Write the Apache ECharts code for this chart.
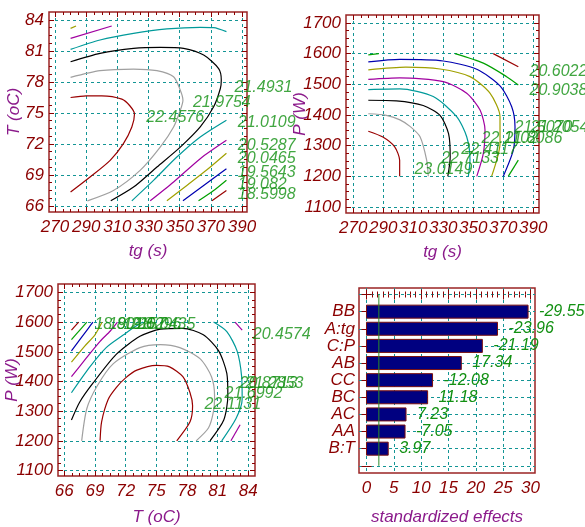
<!DOCTYPE html>
<html><head><meta charset="utf-8">
<script src="https://cdn.jsdelivr.net/npm/echarts@6/dist/echarts.min.js"></script>
<style>html,body{margin:0;padding:0;background:#fff}#c{width:585px;height:527px}</style>
</head><body><div id="c"></div><script>
// ---------- data ----------
const tgTicks = [270,290,310,330,350,370,390];
const tTicks = [66,69,72,75,78,81,84];
const pTicks = [1100,1200,1300,1400,1500,1600,1700];
const effTicks = [0,5,10,15,20,25,30];

// contour lines: [level index 1..9, points]
const tgT_lines = [
 [9,[[280,76.5],[290,76.65],[300,76.66],[312.9,76.34],[318,75.7],[321,74.9],[319.3,73.65],[313.9,72.04],[305.4,70.42],[292.5,68.8],[280,67.35]]],
 [8,[[280,78.44],[298.9,79.09],[320.4,79.25],[335.4,79.09],[346.1,78.5],[350.4,77.2],[352.1,76.24],[350.4,75.27],[346.1,73.65],[337.5,71.7],[324.6,69.45],[307.5,67.5],[290.8,66.5]]],
 [7,[[280,79.96],[298.9,80.77],[320.4,81.25],[337.5,81.35],[352.5,81.25],[365.4,80.6],[375,79.3],[376.7,78.2],[376.1,77.37],[371.8,75.6],[363.2,73.65],[350.4,71.7],[335.4,69.77],[320.4,67.83],[305.8,66.5]]],
 [6,[[280,81.15],[298.9,82.06],[320.4,82.7],[341.8,83.13],[363.2,83.29],[371.8,83.26],[380,82.87]]],
 [6,[[319.3,66.5],[333.2,68.48],[348.2,70.74],[363.2,72.68],[380,74.3]]],
 [5,[[280,82.22],[306.4,83.42]]],
 [5,[[331.1,66.5],[346.1,68.32],[363.2,70.58],[380,72.35]]],
 [4,[[280,83.19],[283.5,83.42]]],
 [4,[[341.8,66.5],[354.6,67.99],[367.5,69.5],[380,71.1]]],
 [3,[[352.1,66.5],[365.4,67.99],[380,69.6]]],
 [2,[[362.1,66.5],[371.8,67.5],[380,68.5]]],
 [1,[[370.7,66.5],[380,67.5]]]
];
const tgT_labels = [
 ['21.4931',385.5,77.39],['21.9754',358.8,75.92],['22.4576',328.9,74.49],
 ['21.0109',387.6,74.0],['20.5287',387.6,71.84],['20.0465',387.6,70.52],
 ['19.5643',387.6,69.16],['19.082',387.6,68.03],['18.5998',387.6,67.06]
];

const tgP_lines = [
 [9,[[280,1347],[289.7,1328],[297.6,1296],[300.9,1252],[300.9,1200]]],
 [8,[[280,1404],[292,1399],[301.1,1384],[308,1362],[314.5,1329],[318.9,1253],[320,1200]]],
 [7,[[280,1448],[298.7,1446],[316.6,1431],[327.8,1399],[333.5,1339],[334.6,1263],[333,1200]]],
 [6,[[280,1483],[301,1485],[323.3,1460],[338.9,1394.5],[345.6,1329],[347.8,1253],[346.7,1200]]],
 [5,[[280,1516],[301,1521],[330,1508.6],[345.6,1471],[354.5,1416],[357.8,1351],[356.7,1275],[352.3,1200]]],
 [4,[[280,1547],[305,1556],[327.8,1550],[347.8,1525],[361.1,1471],[367.8,1394.5],[367.8,1308],[362.2,1200]]],
 [3,[[280,1573],[301,1581],[330,1576],[352.3,1549],[367.8,1495],[375.6,1427],[377.8,1362],[376.7,1286],[370,1200]]],
 [2,[[280,1596],[287,1600]]],
 [2,[[337.8,1600],[356.7,1569],[372.2,1525],[380,1498]]],
 [2,[[373.3,1200],[380,1253]]],
 [1,[[363.3,1600],[380,1557]]]
];
const tgP_labels = [
 ['20.6022',387.8,1541],['20.9038',387.8,1479],['21.2054',388.5,1357],['21.5070',377.8,1357],
 ['21.8086',371.1,1321],['22.1102',355.8,1321],['22.4117',342.3,1286],['22.7133',328.9,1256],['23.0149',311.1,1221]
];

const TP_lines = [
 [9,[[69.5,1200],[69.65,1264],[70.3,1340],[71.1,1380],[72.0,1412],[73.1,1438],[75.0,1454],[76.3,1449],[77.6,1416],[78.3,1362],[78.55,1318],[78.3,1264],[77.0,1200]]],
 [8,[[67.7,1200],[68.2,1308],[69.2,1384],[70.8,1460],[73.4,1514],[75.4,1524],[77.3,1514],[79.3,1476],[80.4,1416],[80.7,1351],[80.6,1300],[80.1,1243],[78.9,1200]]],
 [7,[[66.7,1270],[67.5,1330],[68.8,1394],[71.1,1492],[73.4,1552],[75.4,1576],[77.6,1579],[79.6,1557],[81.1,1503],[81.9,1427],[82.0,1351],[81.6,1270],[80.25,1200]]],
 [6,[[66.7,1362],[68.5,1449],[70.1,1514],[71.8,1557],[72.9,1584],[73.7,1600]]],
 [6,[[80.6,1600],[81.9,1568],[82.9,1503],[83.35,1416],[83.4,1340],[82.8,1275],[81.4,1200]]],
 [5,[[66.7,1416],[68.2,1481],[69.5,1535],[70.5,1570],[71.2,1600]]],
 [5,[[82.7,1600],[83.4,1573]]],
 [5,[[82.3,1200],[83.2,1254]]],
 [4,[[66.7,1465],[68.0,1519],[69.0,1557],[69.7,1600]]],
 [3,[[66.7,1503],[68.35,1579],[68.8,1600]]],
 [2,[[66.7,1541],[68.2,1600]]],
 [1,[[66.7,1573],[67.4,1600]]]
];
const TP_labels = [
 ['18.8018',69.0,1589],['19.2157',70.37,1589],['19.6296',71.84,1589],['20.0435',73.21,1589],
 ['20.4574',84.49,1557],['20.8713',83.19,1390],['21.2853',83.78,1390],['21.6992',81.72,1357],['22.1131',79.76,1319]
];

const effectNames = ['BB','A:tg','C:P','AB','CC','BC','AC','AA','B:T'];
const effectValues = [-29.55,-23.96,-21.19,17.34,-12.08,11.18,7.23,-7.05,3.97];
const criticalEffect = 2.26;

// ---------- style ----------
const FONT = '"Liberation Sans", Arial, sans-serif';
const RED = '#8b0000', FRAME = '#9a2525', TEAL = '#139595', PURPLE = '#8b1a8b', GREEN = '#129012', NAVY = '#000080';
const levelColors = {1:'#990000',2:'#00a000',3:'#0000b0',4:'#a0a000',5:'#a000a0',6:'#009a9a',7:'#000000',8:'#a0a0a0',9:'#990000'};

function range(a,b,s){const r=[];for(let v=a;v<=b+1e-9;v+=s)r.push(+v.toFixed(4));return r;}

function makeAxes(dim, grid, o){
  const sides = dim==='x' ? ['bottom','top'] : ['left','right'];
  const base = () => ({type:'value', gridIndex:grid, min:o.min, max:o.max, inverse:!!o.inverse,
      axisLine:{show:false}, splitLine:{show:false}, axisLabel:{show:false}, silent:true});
  const out = [];
  const main = base();
  main.position = sides[0];
  main.axisTick = {show:true, inside:true, length:5, customValues:o.major, lineStyle:{color:RED,width:1}};
  main.axisLabel = {show:true, customValues:o.labels||o.major, formatter:o.fmt||(v=>String(v)), margin:o.margin,
      color:RED, fontSize:17, fontStyle:'italic', fontFamily:FONT};
  main.splitLine = {show:true, lineStyle:{color:TEAL, type:[3,3], width:1}};
  if(o.name){ Object.assign(main,{name:o.name, nameLocation:'middle', nameGap:o.nameGap, nameMoveOverlap:false,
      nameTextStyle:{color:PURPLE, fontSize:17, fontStyle:'italic', fontFamily:FONT}}); }
  out.push(main);
  const mk = (pos, vals, len) => { const a = base(); a.position = pos;
      a.axisTick = {show: vals.length>0, inside:true, length:len, customValues:vals, lineStyle:{color:RED,width:1}}; return a; };
  out.push(mk(sides[0], o.minor, 3));
  out.push(mk(sides[1], o.major, 5));
  out.push(mk(sides[1], o.minor, 3));
  return out;
}

const grids = [
  {left:49, top:12, width:198, height:200},
  {left:346, top:15, width:193, height:198},
  {left:58, top:284, width:197, height:199},
  {left:359, top:288, width:176, height:199}
].map(g => Object.assign(g, {show:true, borderColor:FRAME, borderWidth:1.5, backgroundColor:'transparent', containLabel:false}));

const xAxes = [].concat(
  makeAxes('x',0,{min:266.15,max:393.2,major:tgTicks,minor:range(270,390,5).filter(v=>!tgTicks.includes(v)),name:'tg (s)',nameGap:31,margin:7}),
  makeAxes('x',1,{min:265.13,max:393.8,major:tgTicks,minor:range(270,390,5).filter(v=>!tgTicks.includes(v)),name:'tg (s)',nameGap:31,margin:7}),
  makeAxes('x',2,{min:65.384,max:84.656,major:tTicks,minor:range(66,84,0.75).filter(v=>!tTicks.includes(v)),name:'T (oC)',nameGap:33,margin:7}),
  makeAxes('x',3,{min:-1.372,max:30.82,major:effTicks,minor:range(0,30,1).filter(v=>!effTicks.includes(v)),name:'standardized effects',nameGap:36,margin:7})
);
const yAxes = [].concat(
  makeAxes('y',0,{min:65.42,max:84.77,major:tTicks,minor:range(66,84,0.75).filter(v=>!tTicks.includes(v)),name:'T (oC)',nameGap:26,margin:5}),
  makeAxes('y',1,{min:1080.4,max:1726,major:pTicks,minor:range(1100,1700,25).filter(v=>!pTicks.includes(v)),name:'P (W)',nameGap:37,margin:5}),
  makeAxes('y',2,{min:1081.5,max:1728.3,major:pTicks,minor:range(1100,1700,25).filter(v=>!pTicks.includes(v)),name:'P (W)',nameGap:37,margin:5}),
  makeAxes('y',3,{min:-0.38,max:10.42,inverse:true,major:range(0,effectNames.length+1,1),minor:[],
     labels:range(1,effectNames.length,1),fmt:v=>effectNames[v-1]||'',margin:4})
);

const series = [];
function addContours(p, lines, labels){
  lines.forEach(([lvl, pts]) => series.push({type:'line', xAxisIndex:4*p, yAxisIndex:4*p, data:pts,
     showSymbol:false, smooth:0.25, silent:true, lineStyle:{color:levelColors[lvl], width:1.2}, z:3}));
  series.push({type:'scatter', xAxisIndex:4*p, yAxisIndex:4*p, clip:false, silent:true, symbolSize:1,
     itemStyle:{color:'transparent'}, z:5,
     data: labels.map(([t,x,y]) => [x,y,t]),
     label:{show:true, position:[0,0], align:'left', verticalAlign:'middle', formatter:q=>q.value[2],
       color:GREEN, fontSize:16, fontStyle:'italic', fontFamily:FONT}});
}
addContours(0, tgT_lines, tgT_labels);
addContours(1, tgP_lines, tgP_labels);
addContours(2, TP_lines, TP_labels);

series.push({type:'line', xAxisIndex:12, yAxisIndex:12, silent:true, showSymbol:false, z:4,
  data:[[criticalEffect,0],[criticalEffect,effectNames.length+1]], lineStyle:{color:'#2a8a2a', width:1}});
series.push({type:'custom', xAxisIndex:12, yAxisIndex:12, silent:true, clip:false, z:3,
  data: effectValues.map((v,i)=>[Math.abs(v), i+1, v]),
  renderItem:(params, api)=>{
    const v = api.value(0), r = api.value(1), s = api.value(2);
    const p0 = api.coord([0,r]), p1 = api.coord([v,r]);
    const h = api.size([0,0.76])[1];
    return {type:'group', children:[
      {type:'rect', shape:{x:p0[0], y:p0[1]-h/2, width:p1[0]-p0[0], height:h}, style:{fill:NAVY, stroke:'#7a1010', lineWidth:1}},
      {type:'text', x:p1[0]+11, y:p1[1], style:{text:s.toFixed(2), fill:GREEN, fontSize:16, fontStyle:'italic', fontFamily:FONT, align:'left', verticalAlign:'middle'}}
    ]};
  }});

const chart = echarts.init(document.getElementById('c'), null, {renderer:'canvas'});
chart.setOption({animation:false, backgroundColor:'#fff', textStyle:{fontFamily:FONT},
  grid:grids, xAxis:xAxes, yAxis:yAxes, series:series});
</script></body></html>
